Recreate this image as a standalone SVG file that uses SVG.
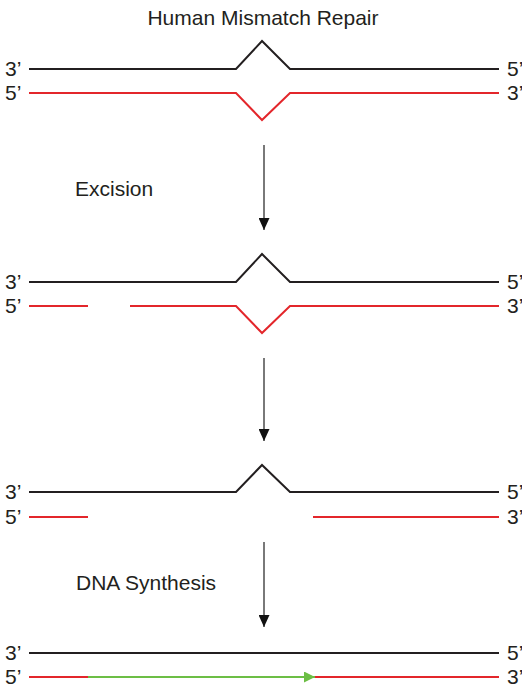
<svg xmlns="http://www.w3.org/2000/svg" width="522" height="688" viewBox="0 0 522 688">
<defs>
<style>
text{font-family:"Liberation Sans",Arial,sans-serif;font-size:21px;fill:#231f20}
.b{fill:none;stroke:#231f20;stroke-width:2}
.r{fill:none;stroke:#e3262b;stroke-width:2}
.g{fill:none;stroke:#6cbe45;stroke-width:2}
.a{stroke:#4d4d4d;stroke-width:1.5;fill:none}
</style>
<marker id="ah" viewBox="0 0 12 11" refX="12" refY="5.5" markerWidth="12" markerHeight="11" markerUnits="userSpaceOnUse" orient="auto">
<path d="M0,0 L12,5.5 L0,11 Z" fill="#111"/>
</marker>
<marker id="gh" viewBox="0 0 11 11" refX="11" refY="5.5" markerWidth="11" markerHeight="11" markerUnits="userSpaceOnUse" orient="auto">
<path d="M0,0 L11,5.5 L0,11 Z" fill="#6cbe45"/>
</marker>
</defs>
<rect width="522" height="688" fill="#fff"/>
<text id="title" x="263" y="25" text-anchor="middle">Human Mismatch Repair</text>
<g id="stage1">
<path class="b" d="M29,69 H236 L262,41 L290,69 H499"/>
<path class="r" d="M29,93 H236 L262,120 L290,93 H499"/>
<text x="5" y="76">3’</text><text x="5" y="100">5’</text>
<text x="507" y="76">5’</text><text x="507" y="100">3’</text>
</g>
<g id="stage2">
<path class="b" d="M29,282 H236 L262,254 L290,282 H499"/>
<path class="r" d="M29,306 H88 M130,306 H236 L262,333 L290,306 H499"/>
<text x="5" y="289">3’</text><text x="5" y="313">5’</text>
<text x="507" y="289">5’</text><text x="507" y="313">3’</text>
</g>
<g id="stage3">
<path class="b" d="M29,492 H236 L262,465 L290,492 H499"/>
<path class="r" d="M29,517 H88 M313,517 H499"/>
<text x="5" y="499">3’</text><text x="5" y="524">5’</text>
<text x="507" y="499">5’</text><text x="507" y="524">3’</text>
</g>
<g id="stage4">
<path class="b" d="M29,653 H499"/>
<path class="r" d="M29,677 H88 M315,677 H499"/>
<path class="g" d="M88,677 H315" marker-end="url(#gh)"/>
<text x="5" y="660">3’</text><text x="5" y="684">5’</text>
<text x="507" y="660">5’</text><text x="507" y="684">3’</text>
</g>
<g id="connectors">
<path class="a" d="M264,145 V230" marker-end="url(#ah)"/>
<path class="a" d="M264,358 V441" marker-end="url(#ah)"/>
<path class="a" d="M264,542 V627" marker-end="url(#ah)"/>
</g>
<text id="excision" x="75" y="196">Excision</text>
<text id="synthesis" x="76" y="590">DNA Synthesis</text>
</svg>
